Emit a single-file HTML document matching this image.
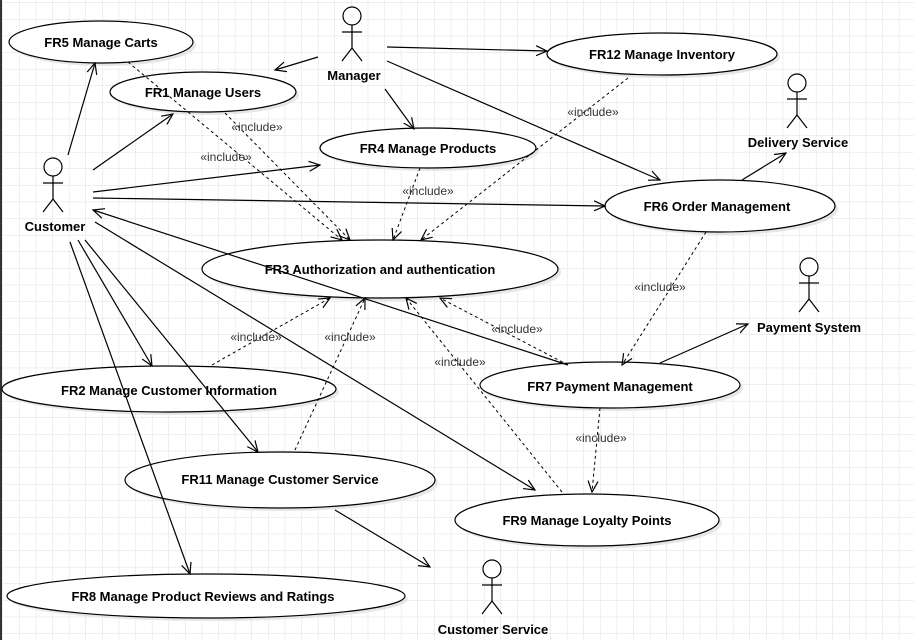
<!DOCTYPE html>
<html><head><meta charset="utf-8"><style>
body{margin:0;background:#fff}
svg{display:block;font-family:"Liberation Sans",sans-serif}
.e{fill:#fff;stroke:#000;stroke-width:1.2}
.s{fill:#e6e6e6}
.l{stroke:#000;stroke-width:1.2;fill:none}
.d{stroke:#000;stroke-width:1;fill:none;stroke-dasharray:3,3}
.t{font-weight:bold;font-size:13px;text-anchor:middle}
.i{font-size:12px;text-anchor:middle;fill:#333}
.ib{fill:#fff}
</style></head><body>
<svg width="914" height="640" viewBox="0 0 914 640">
<defs>
<pattern id="g" width="16.6" height="16.6" patternUnits="userSpaceOnUse" x="3" y="3">
<path d="M16.6 0V16.6H0" fill="none" stroke="#dedede" stroke-width="1"/></pattern>
<marker id="a" markerWidth="12" markerHeight="12" refX="11" refY="6" orient="auto" markerUnits="userSpaceOnUse">
<path d="M0,1 L11,6 L0,11" fill="none" stroke="#000" stroke-width="1.2"/></marker>
</defs>
<rect width="914" height="640" fill="url(#g)"/>
<line x1="1" y1="0" x2="1" y2="640" stroke="#333" stroke-width="2"/>

<!-- shadows + ellipses -->
<g>
<ellipse class="s" cx="104" cy="45" rx="92" ry="21"/><ellipse class="e" cx="101" cy="42" rx="92" ry="21"/>
<ellipse class="s" cx="206" cy="95" rx="93" ry="20"/><ellipse class="e" cx="203" cy="92" rx="93" ry="20"/>
<ellipse class="s" cx="665" cy="57" rx="115" ry="21"/><ellipse class="e" cx="662" cy="54" rx="115" ry="21"/>
<ellipse class="s" cx="431" cy="151" rx="108" ry="20"/><ellipse class="e" cx="428" cy="148" rx="108" ry="20"/>
<ellipse class="s" cx="723" cy="209" rx="115" ry="26"/><ellipse class="e" cx="720" cy="206" rx="115" ry="26"/>
<ellipse class="s" cx="383" cy="272" rx="178" ry="29"/><ellipse class="e" cx="380" cy="269" rx="178" ry="29"/>
<ellipse class="s" cx="172" cy="392" rx="167" ry="23"/><ellipse class="e" cx="169" cy="389" rx="167" ry="23"/>
<ellipse class="s" cx="613" cy="388" rx="130" ry="23"/><ellipse class="e" cx="610" cy="385" rx="130" ry="23"/>
<ellipse class="s" cx="283" cy="483" rx="155" ry="28"/><ellipse class="e" cx="280" cy="480" rx="155" ry="28"/>
<ellipse class="s" cx="590" cy="523" rx="132" ry="26"/><ellipse class="e" cx="587" cy="520" rx="132" ry="26"/>
<ellipse class="s" cx="209" cy="599" rx="199" ry="22"/><ellipse class="e" cx="206" cy="596" rx="199" ry="22"/>
</g>

<!-- solid associations -->
<g class="l">
<line x1="68" y1="155" x2="95" y2="63" marker-end="url(#a)"/>
<line x1="93" y1="170" x2="173" y2="114" marker-end="url(#a)"/>
<line x1="93" y1="192" x2="320" y2="165" marker-end="url(#a)"/>
<line x1="93" y1="198" x2="605" y2="206" marker-end="url(#a)"/>
<line x1="568" y1="365" x2="93" y2="210" marker-end="url(#a)"/>
<line x1="78" y1="240" x2="152" y2="366" marker-end="url(#a)"/>
<line x1="85" y1="240" x2="258" y2="452" marker-end="url(#a)"/>
<line x1="95" y1="222" x2="535" y2="490" marker-end="url(#a)"/>
<line x1="70" y1="242" x2="190" y2="574" marker-end="url(#a)"/>
<line x1="318" y1="57" x2="275" y2="70" marker-end="url(#a)"/>
<line x1="387" y1="47" x2="547" y2="51" marker-end="url(#a)"/>
<line x1="385" y1="89" x2="414" y2="129" marker-end="url(#a)"/>
<line x1="387" y1="61" x2="660" y2="180" marker-end="url(#a)"/>
<line x1="742" y1="180" x2="786" y2="153" marker-end="url(#a)"/>
<line x1="660" y1="363" x2="748" y2="324" marker-end="url(#a)"/>
<line x1="335" y1="510" x2="430" y2="567" marker-end="url(#a)"/>
</g>
<!-- dashed includes -->
<g class="d">
<line x1="128" y1="62" x2="342" y2="240" marker-end="url(#a)"/>
<line x1="225" y1="113" x2="350" y2="240" marker-end="url(#a)"/>
<line x1="420" y1="168" x2="393" y2="240" marker-end="url(#a)"/>
<line x1="628" y1="78" x2="421" y2="240" marker-end="url(#a)"/>
<line x1="706" y1="232" x2="622" y2="365" marker-end="url(#a)"/>
<line x1="212" y1="365" x2="330" y2="298" marker-end="url(#a)"/>
<line x1="295" y1="450" x2="365" y2="298" marker-end="url(#a)"/>
<line x1="568" y1="365" x2="440" y2="298" marker-end="url(#a)"/>
<line x1="562" y1="492" x2="406" y2="298" marker-end="url(#a)"/>
<line x1="600" y1="408" x2="592" y2="492" marker-end="url(#a)"/>
</g>
<g class="i">
<text x="257" y="131">«include»</text>
<text x="226" y="161">«include»</text>
<text x="428" y="195">«include»</text>
<text x="593" y="116">«include»</text>
<text x="660" y="291">«include»</text>
<text x="256" y="341">«include»</text>
<text x="350" y="341">«include»</text>
<text x="517" y="333">«include»</text>
<text x="460" y="366">«include»</text>
<text x="601" y="442">«include»</text>
</g>

<!-- actors -->
<g class="l">
<g transform="translate(53,167)"><circle r="9" fill="#fff"/><line x1="0" y1="9" x2="0" y2="32"/><line x1="-10" y1="16" x2="10" y2="16"/><line x1="0" y1="32" x2="-10" y2="45"/><line x1="0" y1="32" x2="10" y2="45"/></g>
<g transform="translate(352,16)"><circle r="9" fill="#fff"/><line x1="0" y1="9" x2="0" y2="32"/><line x1="-10" y1="16" x2="10" y2="16"/><line x1="0" y1="32" x2="-10" y2="45"/><line x1="0" y1="32" x2="10" y2="45"/></g>
<g transform="translate(797,83)"><circle r="9" fill="#fff"/><line x1="0" y1="9" x2="0" y2="32"/><line x1="-10" y1="16" x2="10" y2="16"/><line x1="0" y1="32" x2="-10" y2="45"/><line x1="0" y1="32" x2="10" y2="45"/></g>
<g transform="translate(809,267)"><circle r="9" fill="#fff"/><line x1="0" y1="9" x2="0" y2="32"/><line x1="-10" y1="16" x2="10" y2="16"/><line x1="0" y1="32" x2="-10" y2="45"/><line x1="0" y1="32" x2="10" y2="45"/></g>
<g transform="translate(492,569)"><circle r="9" fill="#fff"/><line x1="0" y1="9" x2="0" y2="32"/><line x1="-10" y1="16" x2="10" y2="16"/><line x1="0" y1="32" x2="-10" y2="45"/><line x1="0" y1="32" x2="10" y2="45"/></g>
</g>
<g class="t">
<text x="55" y="231">Customer</text>
<text x="354" y="80">Manager</text>
<text x="798" y="147">Delivery Service</text>
<text x="809" y="332">Payment System</text>
<text x="493" y="634">Customer Service</text>
<text x="101" y="47">FR5 Manage Carts</text>
<text x="203" y="97">FR1 Manage Users</text>
<text x="662" y="59">FR12 Manage Inventory</text>
<text x="428" y="153">FR4 Manage Products</text>
<text x="717" y="211">FR6 Order Management</text>
<text x="380" y="274">FR3 Authorization and authentication</text>
<text x="169" y="395">FR2 Manage Customer Information</text>
<text x="610" y="391">FR7 Payment Management</text>
<text x="280" y="484">FR11 Manage Customer Service</text>
<text x="587" y="525">FR9 Manage Loyalty Points</text>
<text x="203" y="601">FR8 Manage Product Reviews and Ratings</text>
</g>
</svg>
</body></html>
